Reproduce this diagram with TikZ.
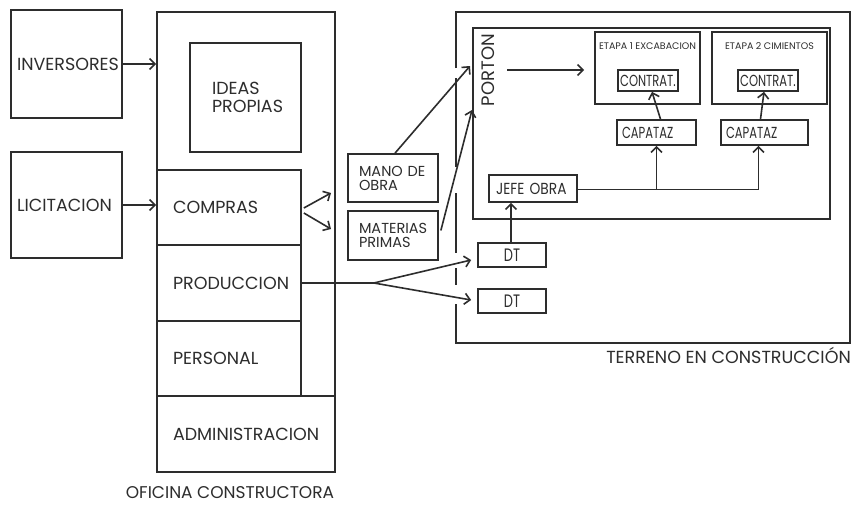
\documentclass[tikz,border=0pt]{standalone}
\usepackage{fontspec}
\setmainfont{Poppins}
\newfontfamily\condA[FakeStretch=0.72]{Poppins}
\newfontfamily\condB[FakeStretch=0.86]{Poppins}
\usetikzlibrary{arrows.meta,calc}
\definecolor{ink}{RGB}{45,45,45}
\tikzset{
  box/.style={draw=ink, line width=1.7pt, rectangle, inner ysep=0pt, align=left, text=ink},
  plain/.style={draw=ink, line width=1.7pt},
  arr/.style={draw=ink, line width=1.6pt, -{Straight Barb[length=5.5pt,width=11pt,line width=1.6pt]}},
  big/.style={font=\fontsize{17.5}{20}\selectfont},
  mid/.style={font=\fontsize{14.5}{17}\selectfont},
  cnA/.style={font=\condA\fontsize{16}{18}\selectfont},
  cnB/.style={font=\condB\fontsize{16}{18}\selectfont},
  dtf/.style={font=\condA\fontsize{18}{20}\selectfont},
  tiny/.style={font=\fontsize{9.5}{11}\selectfont, text=ink},
  capt/.style={text=ink, font=\fontsize{17}{20}\selectfont, inner sep=0pt},
}
\begin{document}
\begin{tikzpicture}[x=1pt,y=-1pt]
\useasboundingbox[fill=white] (0,0) rectangle (867,504);
% oficina constructora
\node[box, minimum width=178, minimum height=460] (ofi) at (246,242) {};
\node[box, big, minimum width=111, minimum height=108, inner xsep=6, text width=99] (inv) at (66.5,64) {INVERSORES};
\node[box, big, minimum width=111, minimum height=106, inner xsep=6, text width=99] (lic) at (66.5,205) {LICITACION};
\node[box, big, minimum width=111, minimum height=109, inner xsep=22, text width=67] (ideas) at (245.5,97.5) {IDEAS\\[-2pt]PROPIAS};
\node[box, big, minimum width=144, minimum height=75, inner xsep=16, text width=112] (compras) at (229,207.5) {COMPRAS};
\node[box, big, minimum width=144, minimum height=76, inner xsep=16, text width=112] (prod) at (229,283) {PRODUCCION};
\node[box, big, minimum width=144, minimum height=75, inner xsep=16, text width=112] (pers) at (229,358.5) {PERSONAL};
\node[box, big, minimum width=178, minimum height=76, inner xsep=16, text width=146] (admin) at (246,434) {ADMINISTRACION};
\node[capt, anchor=base] (oficap) at (230,498) {OFICINA CONSTRUCTORA};
% terreno
\draw[plain] (456,68) -- (456,12) -- (850,12) -- (850,343) -- (456,343) -- (456,304);
\draw[plain] (456,78) -- (456,167);
\draw[plain] (456,193) -- (456,253);
\draw[plain] (456,268) -- (456,285);
\node[capt, font=\fontsize{17.5}{20}\selectfont, anchor=base east] (tercap) at (851,363.5) {TERRENO EN CONSTRUCCIÓN};
\node[box, minimum width=357, minimum height=191] (obra) at (651.5,123.5) {};
\node[text=ink, font=\fontsize{18}{20}\selectfont, rotate=90] (porton) at (488,70) {PORTON};
\node[box, minimum width=105, minimum height=72] (et1) at (647.5,68) {};
\node[box, minimum width=115, minimum height=72] (et2) at (769.5,68) {};
\node[tiny] (et1t) at (647.5,46) {ETAPA 1 EXCABACION};
\node[tiny] (et2t) at (769.5,46) {ETAPA 2 CIMIENTOS};
\node[box, cnA, minimum width=60, minimum height=21, inner xsep=0, align=center] (con1) at (648,80.5) {CONTRAT.};
\node[box, cnA, minimum width=60, minimum height=21, inner xsep=0, align=center] (con2) at (768,80.5) {CONTRAT.};
\node[box, cnA, minimum width=79, minimum height=25, inner xsep=5, text width=69] (cap1) at (656.5,132.5) {CAPATAZ};
\node[box, cnA, minimum width=87, minimum height=25, inner xsep=5, text width=77] (cap2) at (764.5,132.5) {CAPATAZ};
\node[box, cnB, minimum width=88, minimum height=27, inner xsep=7, text width=74] (jefe) at (533,188.5) {JEFE OBRA};
\node[box, dtf, minimum width=68, minimum height=24, inner xsep=0, align=center] (dt1) at (512,255) {DT};
\node[box, dtf, minimum width=68, minimum height=24, inner xsep=0, align=center] (dt2) at (512,301) {DT};
\node[box, mid, minimum width=90, minimum height=48, inner xsep=11, text width=68] (mano) at (393,178) {MANO DE\\[-3pt]OBRA};
\node[box, mid, minimum width=90, minimum height=49, inner xsep=11, text width=68] (mat) at (393,235.5) {MATERIAS\\[-3pt]PRIMAS};
% connectors
\draw[arr] (inv.east) -- (inv.east -| ofi.west);
\draw[arr] (lic.east) -- (lic.east -| compras.west);
\coordinate (c1) at (331,193);
\coordinate (c2) at (331,229);
\draw[arr] ($(compras.east)+(2,0.5)$) -- (c1);
\draw[arr] ($(compras.east)+(2,5.5)$) -- (c2);
\coordinate (p1) at (470,66);
\coordinate (p2) at (472,110);
\draw[arr] ($(mano.north)+(2,0)$) -- (p1);
\draw[arr] ($(mat.east)+(2,-5)$) -- (p2);
\draw[arr] ($(porton.center)+(19,0)$) -- ($(et1.west)+(-10,2)$);
\draw[arr] ([xshift=4pt]cap1.north) -- ([xshift=4pt]con1.south);
\draw[arr] ([xshift=-4pt]cap2.north) -- ([xshift=-4pt]con2.south);
\coordinate (j2) at ($(jefe.east -| cap2.south)+(-6,1)$);
\draw[plain] ($(jefe.east)+(0,1)$) -- (j2);
\draw[arr] (j2) -- (j2 |- cap2.south);
\draw[arr] ($(jefe.east -| cap1.south)+(0,1)$) -- (cap1.south);
\draw[arr] ([xshift=-1pt]dt1.north) -- ([xshift=-1pt]dt1.north |- jefe.south);
\coordinate (pr) at ($(prod.east)+(72,0)$);
\draw[plain] (prod.east) -- (pr);
\draw[arr] (pr) -- ($(dt1.west)+(-6,5)$);
\draw[arr] (pr) -- ($(dt2.west)+(-6,-1)$);
\end{tikzpicture}
\end{document}
